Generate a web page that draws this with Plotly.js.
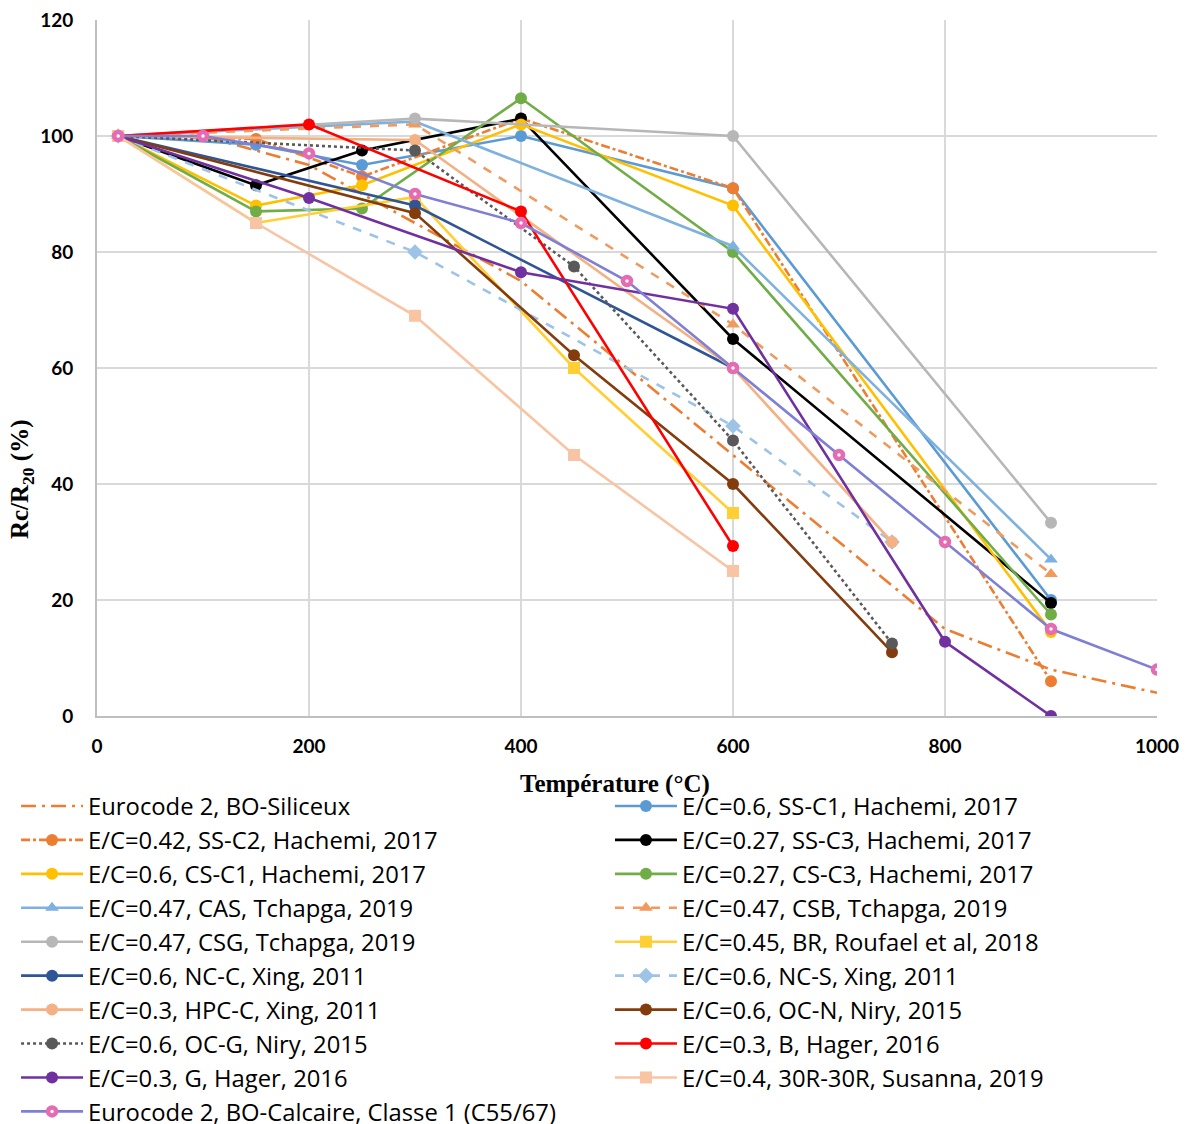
<!DOCTYPE html>
<html>
<head>
<meta charset="utf-8">
<script src="https://cdn.plot.ly/plotly-3.0.1.min.js"></script>
<style>html,body{margin:0;padding:0;background:#fff;}#chart{width:1189px;height:1124px;}</style>
</head>
<body>
<div id="chart"></div>
<script>
// ---- Data ----
const seriesNames = [
  "Eurocode 2, BO-Siliceux",
  "E/C=0.6, SS-C1, Hachemi, 2017",
  "E/C=0.42, SS-C2, Hachemi, 2017",
  "E/C=0.27, SS-C3, Hachemi, 2017",
  "E/C=0.6, CS-C1, Hachemi, 2017",
  "E/C=0.27, CS-C3, Hachemi, 2017",
  "E/C=0.47, CAS, Tchapga, 2019",
  "E/C=0.47, CSB, Tchapga, 2019",
  "E/C=0.47, CSG, Tchapga, 2019",
  "E/C=0.45, BR, Roufael et al, 2018",
  "E/C=0.6, NC-C, Xing, 2011",
  "E/C=0.6, NC-S, Xing, 2011",
  "E/C=0.3, HPC-C, Xing, 2011",
  "E/C=0.6, OC-N, Niry, 2015",
  "E/C=0.6, OC-G, Niry, 2015",
  "E/C=0.3, B, Hager, 2016",
  "E/C=0.3, G, Hager, 2016",
  "E/C=0.4, 30R-30R, Susanna, 2019",
  "Eurocode 2, BO-Calcaire, Classe 1 (C55/67)"
];

const eurocodeT = [20, 100, 200, 300, 400, 500, 600, 700, 800, 900, 1000];
const siliceuxV = [100, 100, 95, 85, 75, 60, 45, 30, 15, 8, 4];
const calcaireV = [100, 100, 97, 90, 85, 75, 60, 45, 30, 15, 8];

const hachemiT = [20, 150, 250, 400, 600, 900];
const ssC1V = [100, 98.5, 95, 100, 91, 20];
const ssC2V = [100, 99.5, 93, 103, 91, 6];
const ssC3V = [100, 91.5, 97.5, 103, 65, 19.5];
const csC1V = [100, 88, 91.5, 102, 88, 14.5];
const csC3V = [100, 87, 87.5, 106.5, 80, 17.5];

const tchapgaT = [20, 300, 600, 900];
const casV = [100, 102.5, 81, 27];
const csbV = [100, 102, 67.5, 24.5];
const csgV = [100, 103, 100, 33.3];

const roufaelT = [20, 150, 300, 450, 600];
const brV = [100, 85, 89.5, 60, 35];

const xingNCCT = [20, 300, 600];
const nccV = [100, 88, 60];
const xingT = [20, 300, 600, 750];
const ncsV = [100, 80, 50, 30];
const hpcV = [100, 99.3, 60, 30];

const niryT = [20, 300, 450, 600, 750];
const ocnV = [100, 86.7, 62.2, 40, 11];
const ocgV = [100, 97.5, 77.5, 47.5, 12.5];

const hagerBT = [20, 200, 400, 600];
const hagerBV = [100, 102, 87, 29.3];
const hagerGT = [20, 200, 400, 600, 800, 900];
const hagerGV = [100, 89.3, 76.5, 70.2, 12.8, 0];

const susannaT = [20, 150, 300, 450, 600];
const susannaV = [100, 85, 69, 45, 25];

const xTickVals = [0, 200, 400, 600, 800, 1000];
const yTickVals = [0, 20, 40, 60, 80, 100, 120];

// ---- Traces ----
function tr(name, x, y, color, dash, symbol) {
  const t = {
    type: 'scatter', name: name, x: x, y: y,
    mode: symbol ? 'lines+markers' : 'lines',
    line: {color: color, width: 2.6, dash: dash || 'solid'}
  };
  if (symbol) t.marker = {symbol: symbol, size: 12, color: color};
  return t;
}

const traces = [
  tr(seriesNames[0], eurocodeT, siliceuxV, '#ED7D31', 'longdashdot', null),
  tr(seriesNames[1], hachemiT, ssC1V, '#5B9BD5', 'solid', 'circle'),
  tr(seriesNames[2], hachemiT, ssC2V, '#ED7D31', 'dashdot', 'circle'),
  tr(seriesNames[3], hachemiT, ssC3V, '#000000', 'solid', 'circle'),
  tr(seriesNames[4], hachemiT, csC1V, '#FFC000', 'solid', 'circle'),
  tr(seriesNames[5], hachemiT, csC3V, '#70AD47', 'solid', 'circle'),
  tr(seriesNames[6], tchapgaT, casV, '#7EB1E0', 'solid', 'triangle-up'),
  tr(seriesNames[7], tchapgaT, csbV, '#F09A5E', 'dash', 'triangle-up'),
  tr(seriesNames[8], tchapgaT, csgV, '#B7B7B7', 'solid', 'circle'),
  tr(seriesNames[9], roufaelT, brV, '#FFCF33', 'solid', 'square'),
  tr(seriesNames[10], xingNCCT, nccV, '#2F5597', 'solid', 'circle'),
  tr(seriesNames[11], xingT, ncsV, '#9DC3E6', 'dash', 'diamond'),
  tr(seriesNames[12], xingT, hpcV, '#F4B183', 'solid', 'circle'),
  tr(seriesNames[13], niryT, ocnV, '#843C0C', 'solid', 'circle'),
  tr(seriesNames[14], niryT, ocgV, '#595959', 'dot', 'circle'),
  tr(seriesNames[15], hagerBT, hagerBV, '#FF0000', 'solid', 'circle'),
  tr(seriesNames[16], hagerGT, hagerGV, '#7030A0', 'solid', 'circle'),
  tr(seriesNames[17], susannaT, susannaV, '#F8C4A4', 'solid', 'square'),
  {
    type: 'scatter', name: seriesNames[18], x: eurocodeT, y: calcaireV,
    mode: 'lines+markers',
    line: {color: '#7F7FD5', width: 2.6},
    marker: {symbol: 'circle', size: 8, color: '#FFFFFF', line: {color: '#E56BB2', width: 4.5}}
  }
];
// two-column legend: even entries left, odd entries right
traces.forEach((t, i) => { t.legend = (i % 2 === 0) ? 'legend' : 'legend2'; });

const legendFont = {family: 'Open Sans, sans-serif', size: 23.8, color: '#000'};
const legendCommon = {
  orientation: 'v', xref: 'container', yref: 'container',
  y: 0.3025, xanchor: 'left', yanchor: 'top',
  itemwidth: 62, tracegroupgap: 0, font: legendFont,
  bgcolor: 'rgba(0,0,0,0)'
};

const layout = {
  width: 1189, height: 1124,
  paper_bgcolor: '#FFFFFF', plot_bgcolor: '#FFFFFF',
  margin: {l: 97, r: 32, t: 20, b: 408, autoexpand: false},
  showlegend: true,
  xaxis: {
    range: [0, 1000], tickvals: xTickVals, ticktext: xTickVals.map(String),
    showgrid: true, gridcolor: '#D9D9D9', gridwidth: 1.5,
    showline: true, linecolor: '#BFBFBF', linewidth: 2, mirror: false,
    zeroline: false, ticks: '', ticklabelstandoff: 12,
    tickfont: {family: 'Lato, sans-serif', size: 19, color: '#000', weight: 'bold'}
  },
  yaxis: {
    range: [0, 120], tickvals: yTickVals, ticktext: yTickVals.map(String),
    showgrid: true, gridcolor: '#D9D9D9', gridwidth: 1.5,
    showline: true, linecolor: '#BFBFBF', linewidth: 2,
    zeroline: false, ticks: '', ticklabelstandoff: 18,
    tickfont: {family: 'Lato, sans-serif', size: 19, color: '#000', weight: 'bold'}
  },
  annotations: [
    {text: 'Température (°C)', xref: 'paper', yref: 'paper', x: 0.489, y: -0.097,
     xanchor: 'center', yanchor: 'middle', showarrow: false,
     font: {family: 'Liberation Serif, Times New Roman, serif', size: 25, color: '#000', weight: 'bold'}},
    {text: 'Rc/R<sub>20</sub> (%)', xref: 'paper', yref: 'paper', x: -0.071, y: 0.34,
     xanchor: 'center', yanchor: 'middle', showarrow: false, textangle: -90,
     font: {family: 'Liberation Serif, Times New Roman, serif', size: 25, color: '#000', weight: 'bold'}}
  ],
  legend: Object.assign({}, legendCommon, {x: 0.0135}),
  legend2: Object.assign({}, legendCommon, {x: 0.513})
};

Plotly.newPlot('chart', traces, layout, {displayModeBar: false, staticPlot: true});
</script>
</body>
</html>
